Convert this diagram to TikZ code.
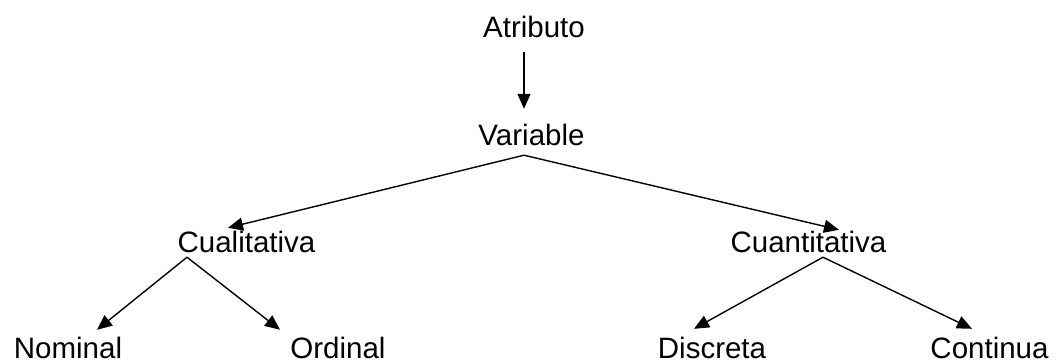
\documentclass[tikz,border=0pt]{standalone}
\usepackage{fontspec}
\setmainfont{Liberation Sans}
\usetikzlibrary{arrows.meta,calc}
\begin{document}
\begin{tikzpicture}[x=1pt,y=1pt,
  lbl/.style={inner sep=0pt,anchor=base,text height=21pt,text depth=0pt,font=\fontsize{29.5}{35}\selectfont},
  conn/.style={line width=1.4pt,-{Triangle[length=15pt,width=13pt]}}]
\useasboundingbox (0,0) rectangle (1056,361);
\node[lbl] (atr) at (534,323) {Atributo};
\node[lbl] (var) at (531.5,215) {Variable};
\node[lbl] (cual) at (246.5,108) {Cualitativa};
\node[lbl] (cuan) at (808.5,108) {Cuantitativa};
\node[lbl] (nom) at (68,2.5) {Nominal};
\node[lbl] (ord) at (338,2.5) {Ordinal};
\node[lbl] (dis) at (712,2.5) {Discreta};
\node[lbl] (con) at (989.5,2.5) {Continua};
\draw[conn] ($(atr.south)+(-10,-14)$) -- ($(var.north)+(-7.5,16)$);
\draw[conn] ($(var.south)+(-7.5,-9)$) -- ($(cual.north)+(-18.5,4)$);
\draw[conn] ($(var.south)+(-7.5,-9)$) -- ($(cuan.north)+(30.5,2)$);
\draw[conn] ($(cual.south)+(-59.5,-4)$) -- ($(nom.north)+(29,7.5)$);
\draw[conn] ($(cual.south)+(-59.5,-4)$) -- ($(ord.north)+(-58,7.5)$);
\draw[conn] ($(cuan.south)+(14.5,-4)$) -- ($(dis.north)+(-18,8.5)$);
\draw[conn] ($(cuan.south)+(14.5,-4)$) -- ($(con.north)+(-17.5,8.5)$);
\end{tikzpicture}
\end{document}
